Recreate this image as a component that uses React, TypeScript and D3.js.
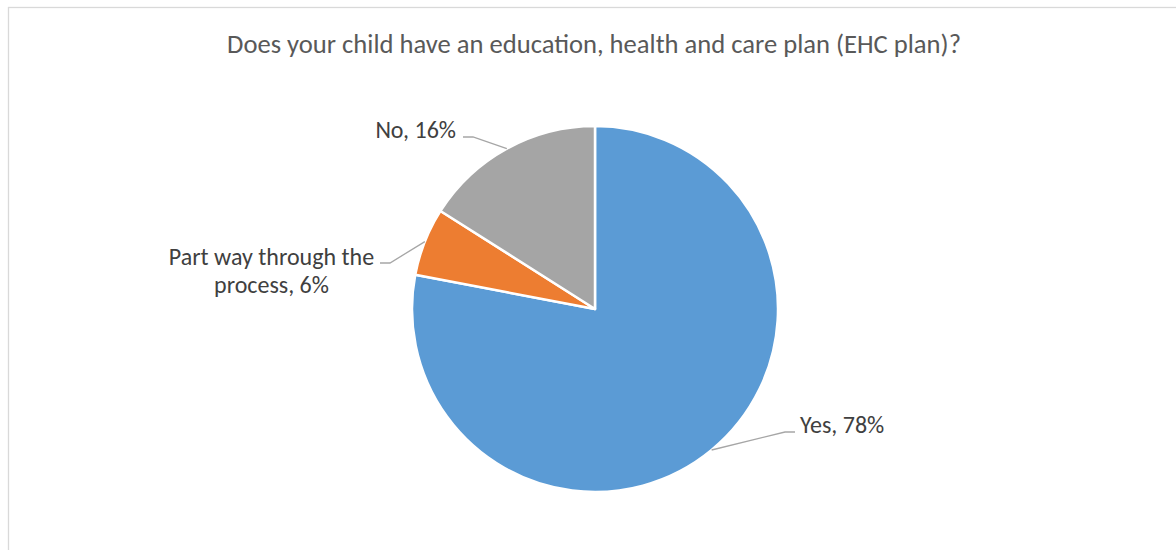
import React from "react";
import * as d3 from "d3";

const categories = ["Yes", "Part way through the process", "No"];
const values = [78, 6, 16];
const colors = ["#5B9BD5", "#ED7D31", "#A5A5A5"];
const title = "Does your child have an education, health and care plan (EHC plan)?";

const W = 1176;
const H = 550;
const cx = 595;
const cy = 309;
const R = 183;

// label layout: elbow point, leader end, text anchor (baseline of first line)
const labelLayout = [
  { elbow: [785, 432], end: [795, 432], tx: 800, ty: 433, anchor: "start", lines: ["Yes, 78%"] },
  { elbow: [390, 263], end: [380, 263], tx: 271.5, ty: 265, anchor: "middle", lines: ["Part way through the", "process, 6%"] },
  { elbow: [473, 137], end: [463, 137], tx: 456, ty: 138, anchor: "end", lines: ["No, 16%"] },
];

export default function App() {
  const pie = d3.pie<number>().sort(null).value((d) => d);
  const arcs = pie(values);
  const arc = d3.arc<d3.PieArcDatum<number>>().innerRadius(0).outerRadius(R);
  const font = "Carlito, Calibri, 'Open Sans', sans-serif";
  return (
    <svg width={W} height={H} style={{ position: "fixed", left: 0, top: 0, background: "#fff" }}>
      <rect x={8.5} y={7.5} width={W + 20} height={H + 20} fill="#fff" stroke="#d9d9d9" strokeWidth={1.3} />
      <text x={594} y={53} textAnchor="middle" fontFamily={font} fontSize={26.6} fill="#595959">
        {title}
      </text>
      <g transform={`translate(${cx},${cy})`}>
        {arcs.map((a, i) => (
          <path key={categories[i]} d={arc(a) || ""} fill={colors[i]} stroke="#fff" strokeWidth={2.5} strokeLinejoin="round" />
        ))}
      </g>
      {arcs.map((a, i) => {
        const mid = (a.startAngle + a.endAngle) / 2;
        const px = cx + Math.sin(mid) * R;
        const py = cy - Math.cos(mid) * R;
        const L = labelLayout[i];
        const lineH = 28;
        return (
          <g key={"lab" + i}>
            <polyline
              points={`${px},${py} ${L.elbow[0]},${L.elbow[1]} ${L.end[0]},${L.end[1]}`}
              fill="none"
              stroke="#a6a6a6"
              strokeWidth={1.3}
            />
            {L.lines.map((t, j) => (
              <text
                key={j}
                x={L.tx}
                y={L.ty + j * lineH}
                textAnchor={L.anchor as any}
                fontFamily={font}
                fontSize={24}
                fill="#404040"
              >
                {t}
              </text>
            ))}
          </g>
        );
      })}
    </svg>
  );
}
